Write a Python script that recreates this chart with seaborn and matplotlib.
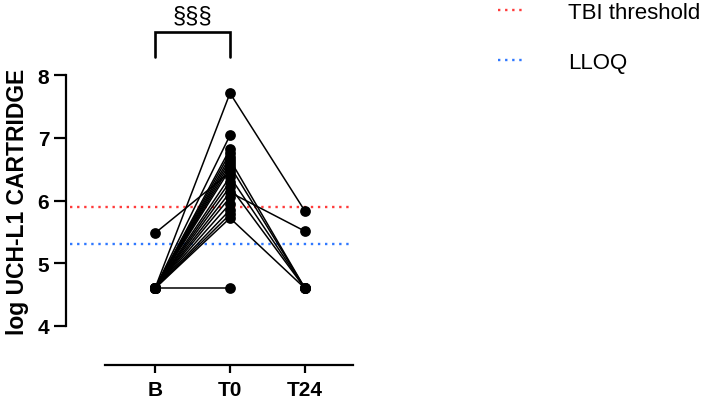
import numpy as np
import pandas as pd
import matplotlib
matplotlib.use("Agg")
import matplotlib.pyplot as plt
import seaborn as sns

# data (one entry per subject)
times = ["B", "T0", "T24"]
b_vals = [4.60, 4.60, 4.60, 4.60, 4.60, 4.60, 4.60, 4.60, 4.60, 5.48,
          4.60, 4.60, 4.60, 4.60, 4.60, 4.60, 4.60, 4.60, 4.60, 4.60]
t0_vals = [7.71, 7.04, 6.82, 6.76, 6.70, 6.65, 6.60, 6.55, 6.50, 6.45,
           6.38, 6.30, 6.22, 6.13, 6.05, 5.95, 5.85, 5.78, 5.72, 4.60]
t24_vals = [5.83, np.nan, np.nan, np.nan, np.nan, 4.60, np.nan, 4.60, np.nan, np.nan,
            4.60, np.nan, 4.60, 5.51, np.nan, np.nan, np.nan, np.nan, 4.60, np.nan]
tbi_threshold = 5.89
lloq = 5.30
sig_label = "§§§"

rows = []
for i in range(len(t0_vals)):
    for t, vals in zip(times, [b_vals, t0_vals, t24_vals]):
        rows.append({"subject": i, "time": times.index(t), "value": vals[i]})
df = pd.DataFrame(rows).dropna()

sns.set_theme(style="ticks")
plt.rcParams["font.family"] = ["Liberation Sans", "DejaVu Sans"]
plt.rcParams["text.color"] = "black"
plt.rcParams["axes.labelcolor"] = "black"
plt.rcParams["xtick.color"] = "black"
plt.rcParams["ytick.color"] = "black"

fig = plt.figure(figsize=(7.05, 4.06), dpi=100)
ax = fig.add_axes([66 / 705, 79 / 406, 287 / 705, 251 / 406])

# reference lines
red_line = ax.axhline(tbi_threshold, xmin=0.015, xmax=1, color="#ff3b3b",
                      ls=(0, (1, 2)), lw=1.7, zorder=1, label="TBI threshold")
blue_line = ax.axhline(lloq, xmin=0.015, xmax=1, color="#2f78ff",
                       ls=(0, (1, 2)), lw=1.7, zorder=1, label="LLOQ")

# per-subject lines and points
sns.lineplot(data=df, x="time", y="value", units="subject", estimator=None,
             color="black", lw=1.1, ax=ax, zorder=2, legend=False)
sns.scatterplot(data=df, x="time", y="value", color="black", s=60,
                edgecolor="black", linewidth=0, ax=ax, zorder=3, legend=False)

# spines first (set_position resets the tick formatting)
for side in ["top", "right"]:
    ax.spines[side].set_visible(False)
ax.spines["bottom"].set_position(("outward", 28))
ax.spines["bottom"].set_bounds(-0.667, 2.64)
for side in ["left", "bottom"]:
    ax.spines[side].set_linewidth(1.6)
    ax.spines[side].set_color("black")

ax.set_xlim(-1.187, 2.64)
ax.set_ylim(4, 8)
ax.set_xticks(range(len(times)))
ax.set_xticklabels(times, fontsize=15, fontweight="bold")
ax.set_yticks([4, 5, 6, 7, 8])
ax.set_yticklabels(["4", "5", "6", "7", "8"], fontsize=15, fontweight="bold")
ax.set_xlabel("")
ax.set_ylabel("log UCH-L1 CARTRIDGE", fontsize=16.5, fontweight="bold", labelpad=6)
ax.tick_params(axis="y", length=9, width=1.6, color="black", pad=3)
ax.tick_params(axis="x", length=6, width=1.6, color="black", pad=5)

# significance bracket between B and T0
ax.plot([0, 0, 1, 1], [8.29, 8.685, 8.685, 8.29], color="black", lw=1.9,
        clip_on=False, solid_joinstyle="miter")
ax.text(0.5, 8.95, sig_label, ha="center", va="center", fontsize=17)

fig.legend(handles=[red_line, blue_line], loc="upper left",
           bbox_to_anchor=(487 / 705, 1.02), frameon=False, fontsize=16,
           handlelength=1.25, handletextpad=1.9, labelspacing=1.3,
           borderaxespad=0.1)

fig.savefig("out.png", dpi=100)
